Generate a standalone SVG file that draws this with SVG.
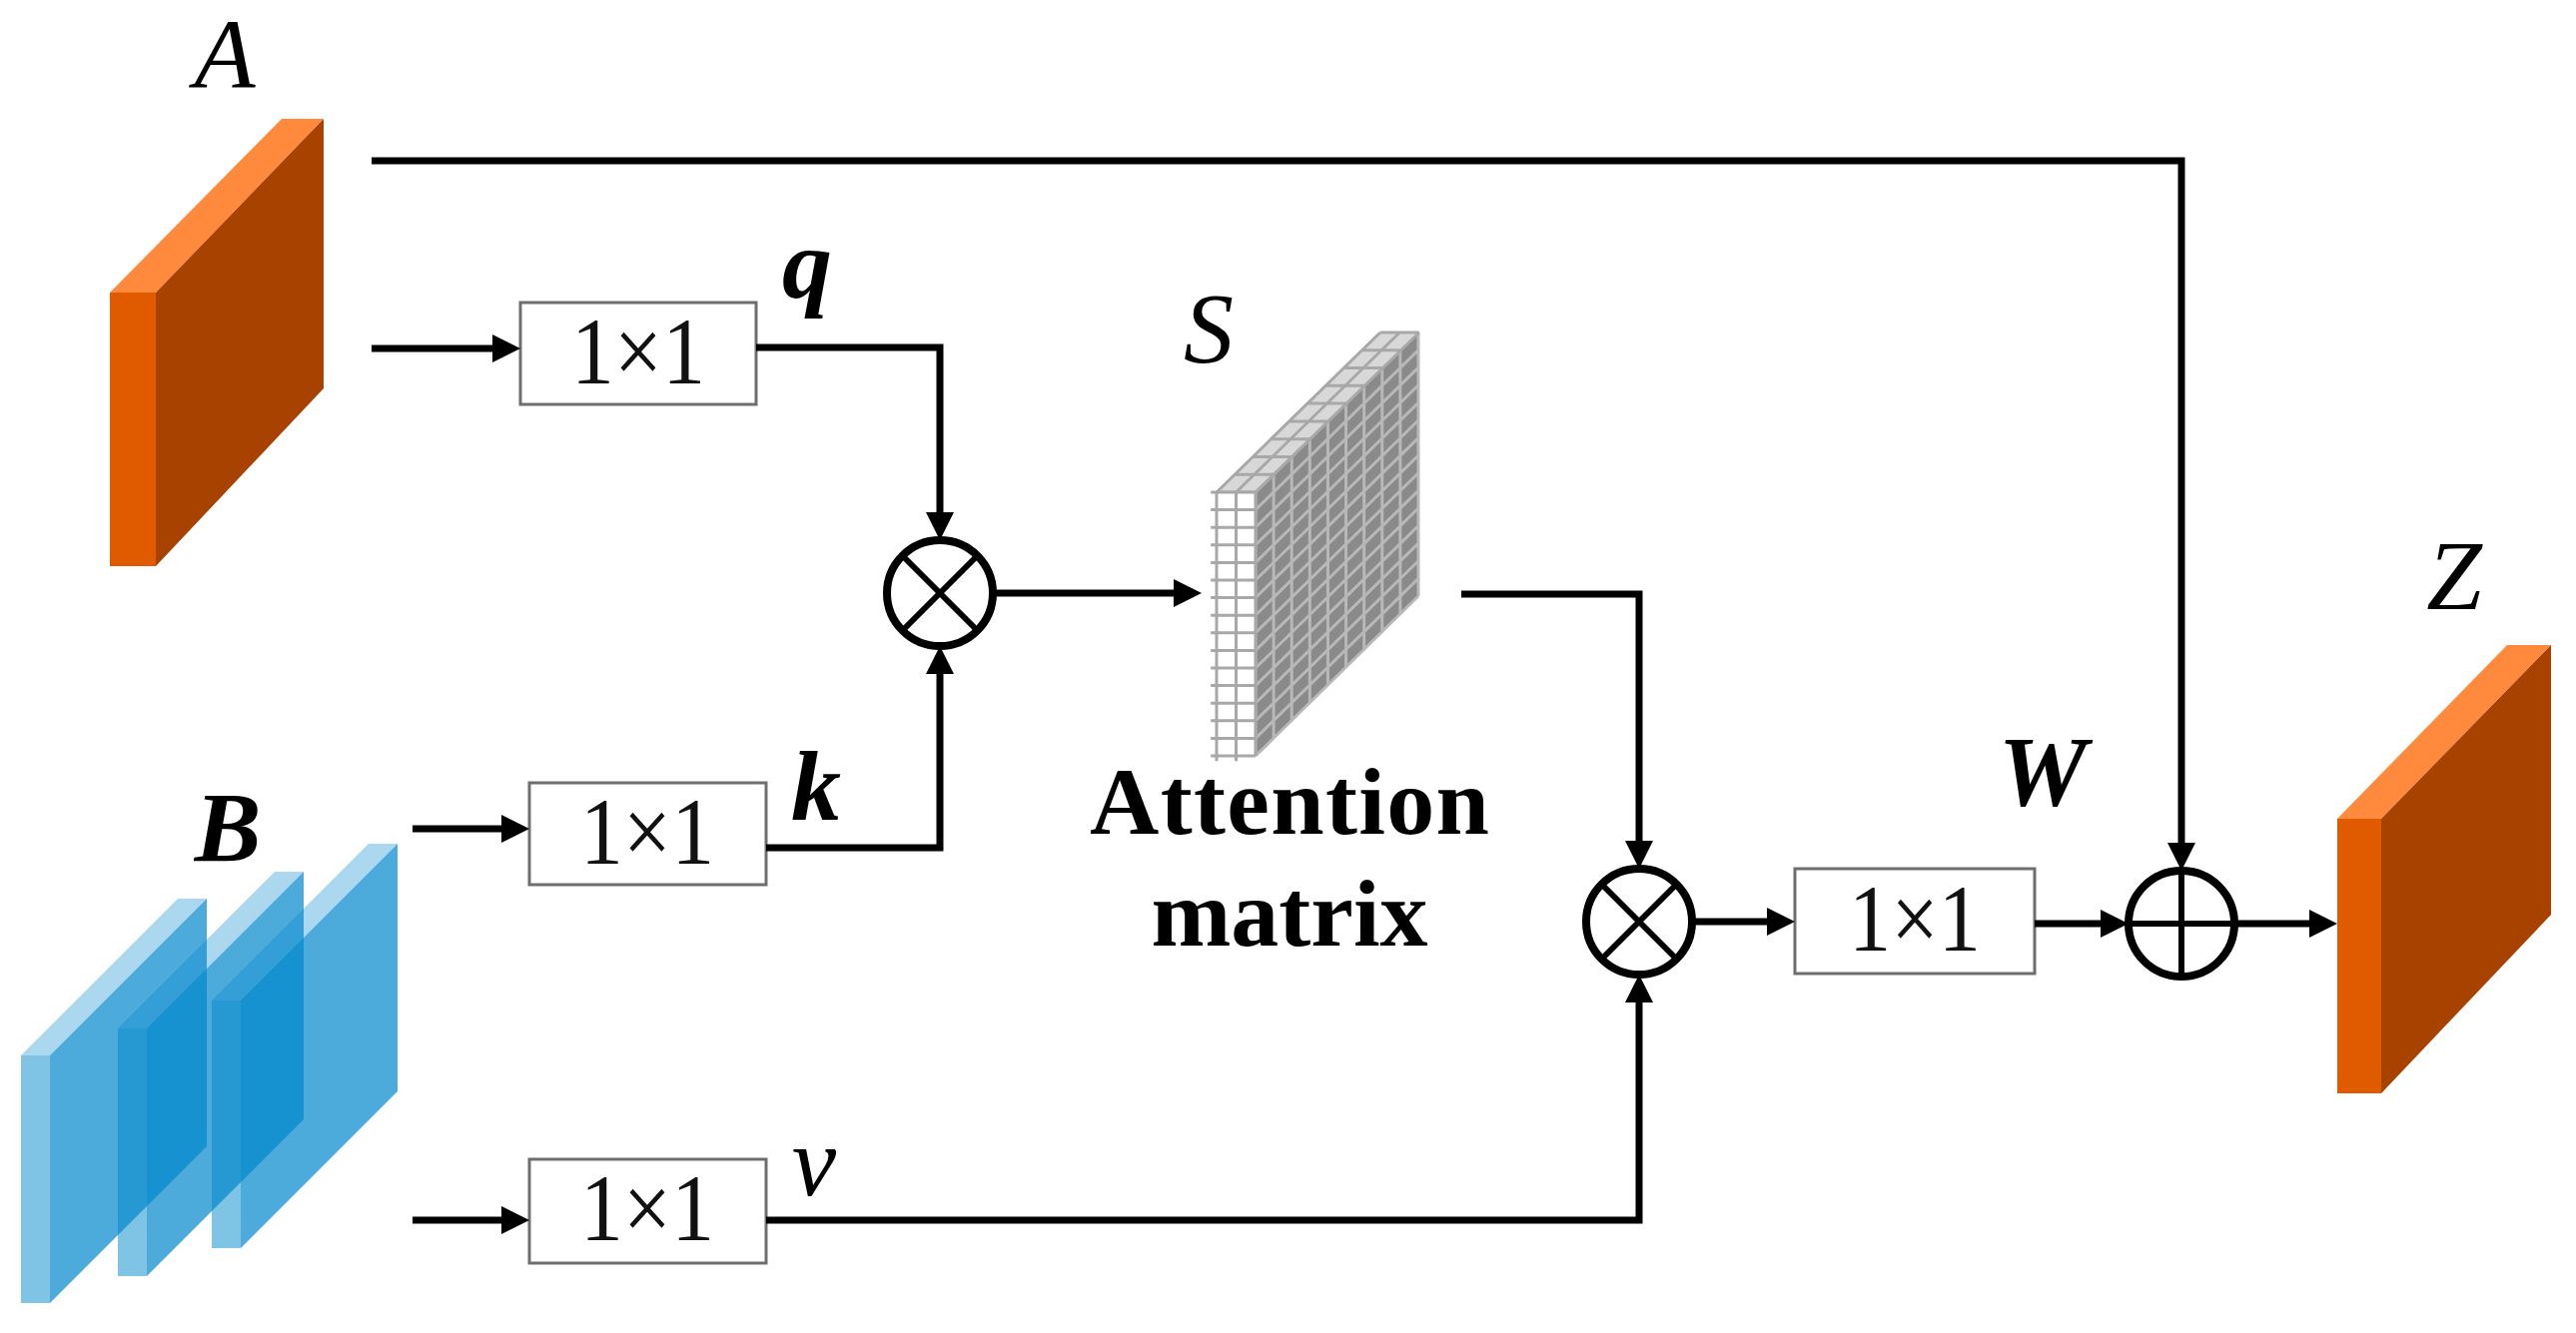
<svg xmlns="http://www.w3.org/2000/svg" width="2579" height="1335" viewBox="0 0 2579 1335">
<defs>
<style>
.lbl{font-family:"Liberation Serif","Times New Roman",serif;font-style:italic;font-size:100px;fill:#000;text-anchor:middle}
.b{font-weight:bold}
.box{fill:#fff;stroke:#6e6e6e;stroke-width:3}
.bt{font-family:"Liberation Serif","Times New Roman",serif;font-size:96px;text-anchor:middle;fill:#111}
.att{font-family:"Liberation Serif","Times New Roman",serif;font-size:96px;font-weight:bold;text-anchor:middle;fill:#000}
.con{fill:none;stroke:#000;stroke-width:7;stroke-linejoin:miter}
.op{fill:#fff;stroke:#000;stroke-width:8}
.opl{stroke:#000;stroke-width:6;fill:none}
.gl{stroke-width:3;vector-effect:non-scaling-stroke;fill:none}
.of{fill:#E05A00}.ot{fill:#FF8A3D}.os{fill:#A84200}
.bf{fill:rgb(0,136,204);fill-opacity:0.5}
.btp{fill:rgb(0,136,204);fill-opacity:0.33}
.bs{fill:rgb(0,136,204);fill-opacity:0.7}
</style>
<marker id="ah" markerUnits="userSpaceOnUse" markerWidth="28" markerHeight="28" viewBox="0 0 28 28" refX="17" refY="14" orient="auto"><path d="M0,0 L28,14 L0,28 z" fill="#000"/></marker>
</defs>
<rect width="2579" height="1335" fill="#fff"/>

<g id="nodeA">
<polygon class="ot" points="110,293 156,293 324,119 282,119"/>
<polygon class="os" points="156,293 324,119 324,389 156,567"/>
<rect class="of" x="110" y="293" width="46" height="274"/>
<text class="lbl" x="225" y="88">A</text>
</g>

<g id="nodeB">
<g id="plane1">
<polygon class="btp" points="21,1057 50,1057 207,900 178,900"/>
<polygon class="bs" points="50,1057 207,900 207,1148 50,1305"/>
<rect class="bf" x="21" y="1057" width="29" height="248"/>
</g>
<g id="plane2">
<polygon class="btp" points="118,1030 147,1030 304,873 275,873"/>
<polygon class="bs" points="147,1030 304,873 304,1121 147,1278"/>
<rect class="bf" x="118" y="1030" width="29" height="248"/>
</g>
<g id="plane3">
<polygon class="btp" points="212,1002 241,1002 398,845 369,845"/>
<polygon class="bs" points="241,1002 398,845 398,1093 241,1250"/>
<rect class="bf" x="212" y="1002" width="29" height="248"/>
</g>
<text class="lbl b" x="228" y="862">B</text>
</g>

<g id="convQ">
<rect class="box" x="521" y="303" width="236" height="102"/>
<text class="bt" x="639" y="384" textLength="134" lengthAdjust="spacingAndGlyphs">1×1</text>
<text class="lbl b" x="808" y="298">q</text>
</g>

<g id="convK">
<rect class="box" x="530" y="784" width="237" height="102"/>
<text class="bt" x="648" y="865" textLength="134" lengthAdjust="spacingAndGlyphs">1×1</text>
<text class="lbl b" x="817" y="821">k</text>
</g>

<g id="convV">
<rect class="box" x="530" y="1161" width="237" height="104"/>
<text class="bt" x="648" y="1242" textLength="134" lengthAdjust="spacingAndGlyphs">1×1</text>
<text class="lbl" x="815" y="1197">v</text>
</g>

<g id="mul1">
<circle class="op" cx="941" cy="594" r="53"/>
<path class="opl" d="M903.5,556.5 L978.5,631.5 M978.5,556.5 L903.5,631.5"/>
</g>

<g id="nodeS">
<g transform="matrix(18.11,-17.78,0,17.6,1257,493)">
<rect x="0" y="0" width="9" height="15" fill="#8a8a8a"/>
<path class="gl" stroke="#b8b8b8" d="M0 0V15M1 0V15M2 0V15M3 0V15M4 0V15M5 0V15M6 0V15M7 0V15M8 0V15M9 0V15M0 0H9M0 1H9M0 2H9M0 3H9M0 4H9M0 5H9M0 6H9M0 7H9M0 8H9M0 9H9M0 10H9M0 11H9M0 12H9M0 13H9M0 14H9M0 15H9"/>
</g>
<g transform="matrix(19.5,0,18.2,-17.78,1218,493)">
<rect x="0" y="0" width="2" height="9" fill="#d8d8d8"/>
<path class="gl" stroke="#a8a8a8" d="M0 0V9M1 0V9M2 0V9M0 0H2M0 1H2M0 2H2M0 3H2M0 4H2M0 5H2M0 6H2M0 7H2M0 8H2M0 9H2"/>
</g>
<g transform="matrix(19.5,0,0,17.6,1218,493)">
<rect x="0" y="0" width="2" height="15" fill="#fff"/>
<path class="gl" stroke="#a8a8a8" d="M0 0V15.3M1 0V15.3M2 0V15M-0.3 0H2M-0.3 1H2M-0.3 2H2M-0.3 3H2M-0.3 4H2M-0.3 5H2M-0.3 6H2M-0.3 7H2M-0.3 8H2M-0.3 9H2M-0.3 10H2M-0.3 11H2M-0.3 12H2M-0.3 13H2M-0.3 14H2M-0.3 15H2"/>
</g>
<text class="lbl" x="1210" y="362">S</text>
<text class="att" x="1291" y="835" textLength="400">Attention</text>
<text class="att" x="1291" y="947">matrix</text>
</g>

<g id="mul2">
<circle class="op" cx="1641" cy="923" r="53"/>
<path class="opl" d="M1603.5,885.5 L1678.5,960.5 M1678.5,885.5 L1603.5,960.5"/>
</g>

<g id="convW">
<rect class="box" x="1797" y="870" width="240" height="105"/>
<text class="bt" x="1917" y="952" textLength="132" lengthAdjust="spacingAndGlyphs">1×1</text>
<text class="lbl b" x="2045" y="806">W</text>
</g>

<g id="add">
<circle class="op" cx="2184" cy="925" r="53"/>
<path class="opl" d="M2131,925 H2237 M2184,872 V978"/>
</g>

<g id="nodeZ">
<polygon class="ot" points="2340,820 2384,820 2554,646 2510,646"/>
<polygon class="os" points="2384,820 2554,646 2554,916 2384,1095"/>
<rect class="of" x="2340" y="820" width="44" height="275"/>
<text class="lbl" x="2457" y="610">Z</text>
</g>

<g id="connectors">
<path class="con" d="M372,161 H2184 V861" marker-end="url(#ah)"/>
<path class="con" d="M372,349 H510" marker-end="url(#ah)"/>
<path class="con" d="M757,348 H941 V530" marker-end="url(#ah)"/>
<path class="con" d="M767,849 H941 V658" marker-end="url(#ah)"/>
<path class="con" d="M413,830 H519" marker-end="url(#ah)"/>
<path class="con" d="M413,1222 H519" marker-end="url(#ah)"/>
<path class="con" d="M767,1222 H1641 V987" marker-end="url(#ah)"/>
<path class="con" d="M994,594 H1192" marker-end="url(#ah)"/>
<path class="con" d="M1463,595 H1641 V859" marker-end="url(#ah)"/>
<path class="con" d="M1694,923 H1786" marker-end="url(#ah)"/>
<path class="con" d="M2037,925 H2120" marker-end="url(#ah)"/>
<path class="con" d="M2237,925 H2329" marker-end="url(#ah)"/>
</g>
</svg>
